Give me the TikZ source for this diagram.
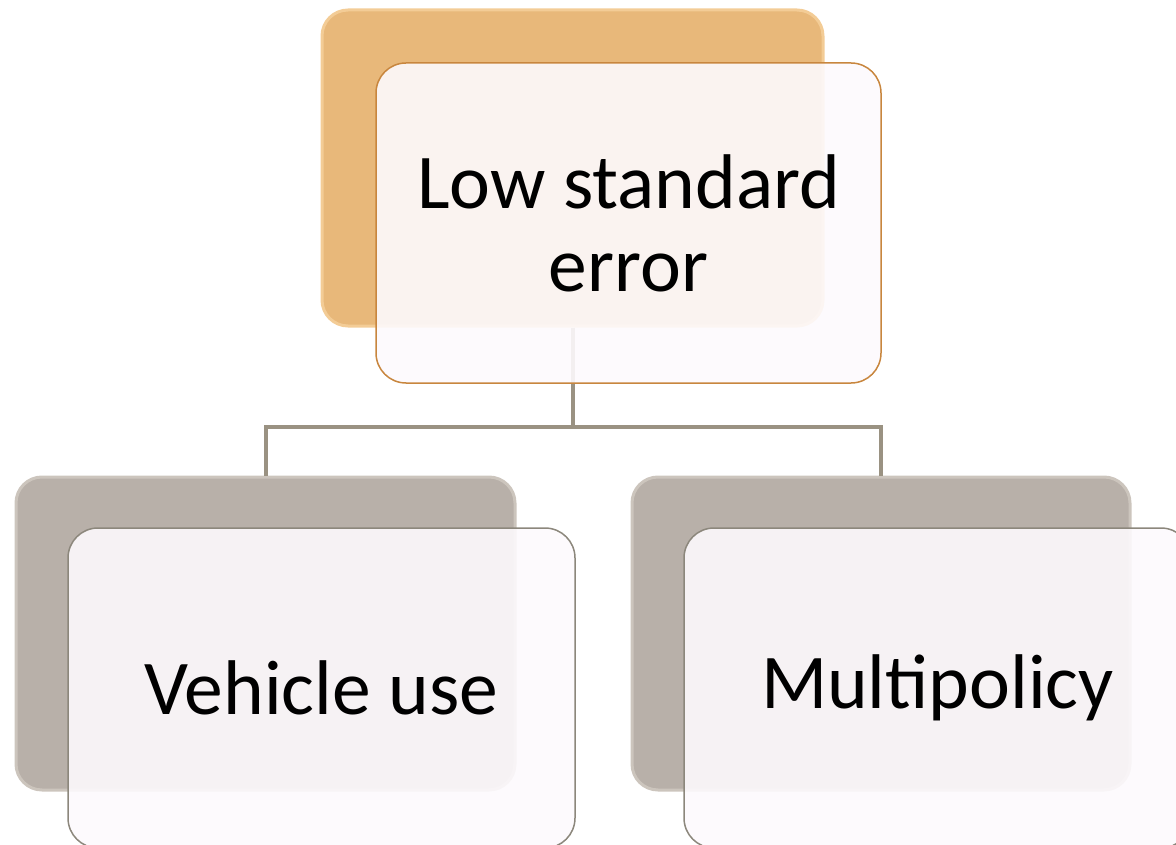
\documentclass[tikz,border=0pt]{standalone}
\usepackage{fontspec}
\setmainfont{Carlito}
\definecolor{orangeback}{HTML}{E8B87A}
\definecolor{orangeedge}{HTML}{F3CC96}
\definecolor{orangeline}{HTML}{C8863E}
\definecolor{grayback}{HTML}{B8B0A9}
\definecolor{grayedge}{HTML}{CCC5BD}
\definecolor{grayline}{HTML}{8C877C}
\definecolor{linkcol}{HTML}{9A9282}
\definecolor{cardfill}{HTML}{FDFAFD}
\tikzset{
  backcard/.style={rectangle, rounded corners=26pt, line width=3pt, inner sep=0pt},
  frontcard/.style={rectangle, rounded corners=30pt, line width=1.5pt, inner sep=0pt,
    fill=cardfill, fill opacity=0.9, text opacity=1, align=center,
    font=\fontsize{77.5}{83}\selectfont},
  link/.style={draw=linkcol, line width=4pt},
}
\begin{document}
\begin{tikzpicture}[x=1pt,y=-1pt]
  \useasboundingbox (0,0) rectangle (1176,845);
  \clip (0,0) rectangle (1176,845);
  % back cards
  \node[backcard, fill=orangeback, draw=orangeedge, minimum width=501pt, minimum height=316pt] (topback) at (572.5,168) {};
  \node[backcard, fill=grayback, draw=grayedge, minimum width=499pt, minimum height=313pt] (leftback) at (265.5,633.5) {};
  \node[backcard, fill=grayback, draw=grayedge, minimum width=498pt, minimum height=313pt] (rightback) at (881,633.5) {};
  % connectors
  \coordinate (bus) at (572.5,427);
  \draw[link] (topback.south) -- (bus);
  \draw[link] (leftback.north) |- (bus) -| (rightback.north);
  % front cards
  \node[frontcard, draw=orangeline, minimum width=505pt, minimum height=320pt] (top) at (628.5,223) {Low standard\\error};
  \node[frontcard, draw=grayline, minimum width=507pt, minimum height=320pt] (left) at (321.5,688) {Vehicle use};
  \node[frontcard, draw=grayline, minimum width=507pt, minimum height=320pt] (right) at (937.5,688) {Multipolicy};
\end{tikzpicture}
\end{document}
